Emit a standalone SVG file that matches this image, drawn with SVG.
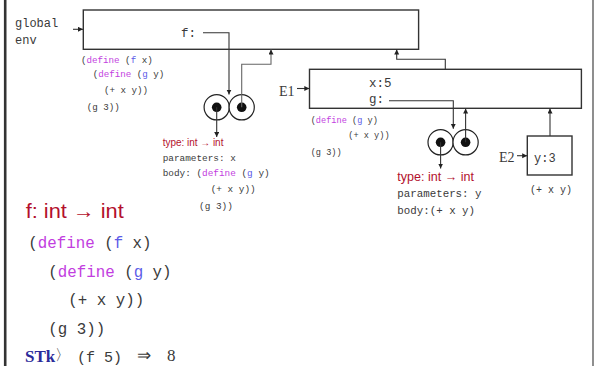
<svg xmlns="http://www.w3.org/2000/svg" width="594" height="366" viewBox="0 0 594 366">
<style>
text{white-space:pre}
.m{font-family:"Liberation Mono",monospace;fill:#3a3a3a}
.s{font-family:"Liberation Serif",serif;fill:#3a3a3a}
.r{font-family:"Liberation Sans",Arial,sans-serif;fill:#b3102c}
.d{fill:#c23ee0}
.n{fill:#5b5be8}
.box{fill:#fff;stroke:#333;stroke-width:1.4}
.c{fill:#fff;stroke:#222;stroke-width:1.2}
.dot{fill:#111}
.ln{fill:none;stroke:#333;stroke-width:1.1}
.lg{fill:none;stroke:#666;stroke-width:1.1}
</style>
<defs>
<marker id="ah" markerUnits="userSpaceOnUse" markerWidth="6" markerHeight="6" refX="5" refY="2.5" orient="auto">
<path d="M0,0 L5,2.5 L0,5 z" fill="#222"/>
</marker>
</defs>
<rect width="594" height="366" fill="#fff"/>
<line x1="5.2" y1="0" x2="5.2" y2="366" stroke="#333" stroke-width="2.6"/>
<line x1="593" y1="0" x2="593" y2="366" stroke="#444" stroke-width="1.2"/>

<g id="global-env">
<rect class="box" x="83.3" y="10" width="335.3" height="39.3"/>
<text class="m" x="15" y="27" font-size="12">global</text>
<text class="m" x="15" y="43.5" font-size="12">env</text>
<text class="m" x="181" y="37" font-size="12.5">f:</text>
</g>

<g id="global-code" class="m" font-size="9.2">
<text x="81" y="63.3">(<tspan class="d">define</tspan> (<tspan class="n">f</tspan> x)</text>
<text x="92.7" y="77.3">(<tspan class="d">define</tspan> (<tspan class="n">g</tspan> y)</text>
<text x="104" y="93.3">(+ x y))</text>
<text x="86.7" y="110">(g 3))</text>
</g>

<g id="proc-f">
<circle class="c" cx="216.7" cy="107.3" r="12.6"/>
<circle class="c" cx="241.7" cy="107.3" r="12.6"/>
<circle class="dot" cx="216.7" cy="107.3" r="4.8"/>
<circle class="dot" cx="241.7" cy="107.3" r="4.8"/>
</g>

<g id="proc-f-info">
<text class="r" x="162.7" y="145.7" font-size="10" textLength="60.7" lengthAdjust="spacingAndGlyphs">type: int → int</text>
<text class="m" x="162.7" y="161" font-size="9.4">parameters: x</text>
<text class="m" x="162.7" y="176" font-size="9.4">body: (<tspan class="d">define</tspan> (<tspan class="n">g</tspan> y)</text>
<text class="m" x="210.7" y="192" font-size="9.4">(+ x y))</text>
<text class="m" x="199" y="209" font-size="9.4">(g 3))</text>
</g>

<g id="E1">
<rect class="box" x="309.5" y="69.3" width="271.9" height="39"/>
<text class="s" x="279" y="95.5" font-size="14">E1</text>
<text class="m" x="369" y="86.5" font-size="12.5">x:5</text>
<text class="m" x="369" y="103" font-size="12.5">g:</text>
</g>

<g id="E1-code" class="m" font-size="8.6">
<text x="310.7" y="122.7">(<tspan class="d">define</tspan> (<tspan class="n">g</tspan> y)</text>
<text x="348.3" y="138.3">(+ x y))</text>
<text x="310.7" y="155">(g 3))</text>
</g>

<g id="proc-g">
<circle class="c" cx="440.6" cy="142.3" r="12.6"/>
<circle class="c" cx="465.6" cy="142.3" r="12.6"/>
<circle class="dot" cx="440.6" cy="142.3" r="4.8"/>
<circle class="dot" cx="465.6" cy="142.3" r="4.8"/>
</g>

<g id="proc-g-info">
<text class="r" x="397.3" y="181" font-size="12.5" textLength="76.7" lengthAdjust="spacingAndGlyphs">type: int → int</text>
<text class="m" x="397.3" y="197.3" font-size="10.8">parameters: y</text>
<text class="m" x="397.3" y="214.3" font-size="10.8">body:(+ x y)</text>
</g>

<g id="E2">
<rect class="box" x="527.3" y="136" width="44.7" height="39"/>
<text class="s" x="499" y="161.5" font-size="14">E2</text>
<text class="m" x="534" y="161.7" font-size="12">y:3</text>
<text class="m" x="530" y="193.3" font-size="10">(+ x y)</text>
</g>

<g id="connectors">
<line class="ln" x1="73" y1="29.3" x2="83" y2="29.3" marker-end="url(#ah)"/>
<path class="ln" d="M203,32.7 H229 V94.6" marker-end="url(#ah)"/>
<path class="lg" d="M241.7,107.3 V64.3 H271 V49.6" marker-end="url(#ah)"/>
<path class="ln" d="M216.7,107.3 V137" marker-end="url(#ah)"/>
<path class="ln" d="M445.3,69.3 V59.3 H396.7 V49.6" marker-end="url(#ah)"/>
<line class="ln" x1="297" y1="88.5" x2="309.3" y2="88.5" marker-end="url(#ah)"/>
<path class="ln" d="M389,100.7 H453.3 V128.8" marker-end="url(#ah)"/>
<path class="ln" d="M465.6,142.3 V108.6" marker-end="url(#ah)"/>
<path class="ln" d="M440.6,142.3 V168.5" marker-end="url(#ah)"/>
<line class="ln" x1="517" y1="155.7" x2="527.2" y2="155.7" marker-end="url(#ah)"/>
<path class="ln" d="M550,136 V108.6" marker-end="url(#ah)"/>
</g>

<g id="main-code">
<text class="r" x="25.7" y="218.3" font-size="20" textLength="98" lengthAdjust="spacingAndGlyphs">f: int → int</text>
<text class="m" x="28.3" y="248.3" font-size="15.8">(<tspan class="d">define</tspan> (<tspan class="n">f</tspan> x)</text>
<text class="m" x="48.3" y="277.3" font-size="15.8">(<tspan class="d">define</tspan> (<tspan class="n">g</tspan> y)</text>
<text class="m" x="68.3" y="305" font-size="15.8">(+ x y))</text>
<text class="m" x="48.3" y="334" font-size="15.8">(g 3))</text>
<text class="s" x="25" y="361.7" font-size="17" font-weight="bold" fill="#2b2b9a" style="fill:#2b2b9a">STk</text>
<text class="s" x="55" y="360" font-size="15">〉</text>
<text class="m" x="77" y="361.7" font-size="15">(f 5)</text>
<text class="s" x="137" y="360.5" font-size="17">⇒</text>
<text class="s" x="167" y="361" font-size="17">8</text>
</g>
</svg>
